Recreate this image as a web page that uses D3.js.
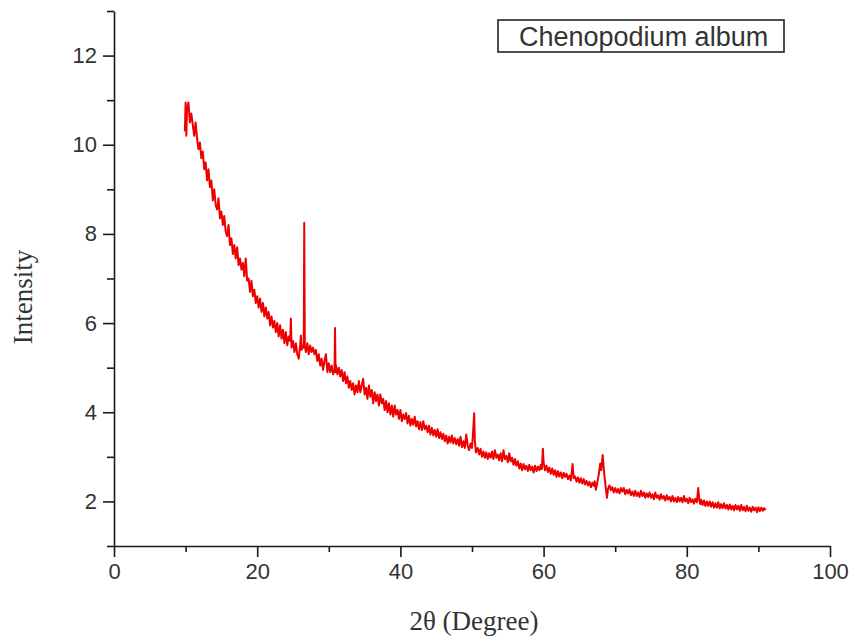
<!DOCTYPE html>
<html>
<head>
<meta charset="utf-8">
<script src="https://cdn.jsdelivr.net/npm/d3@7/dist/d3.min.js"></script>
<style>
  html, body { margin: 0; padding: 0; background: #fff; }
  svg { display: block; }
</style>
</head>
<body>
<svg id="chart" width="854" height="642"></svg>
<script>
// ---- data ----
const seriesName = "Chenopodium album";
const xLabel = "2θ (Degree)";
const yLabel = "Intensity";
const xDomain = [0, 100];
const yDomain = [1, 13];
const xMajorTicks = [0, 20, 40, 60, 80, 100];
const xMinorTicks = [10, 30, 50, 70, 90];
const yMajorTicks = [2, 4, 6, 8, 10, 12];
const yMinorTicks = [1, 3, 5, 7, 9, 11, 13];

// [2θ, intensity]
const xrdScan = [
[9.9,10.3],[10.0,10.95],[10.1,10.2],[10.2,10.8],[10.4,10.95],[10.6,10.5],[10.8,10.7],
[11.0,10.45],[11.2,10.2],[11.4,10.5],[11.6,10.15],[11.8,9.9],
[12.0,10.05],[12.2,9.7],[12.4,9.85],[12.6,9.45],[12.8,9.6],
[13.0,9.2],[13.2,9.45],[13.4,9.05],[13.6,9.2],[13.8,8.75],
[14.0,9.0],[14.2,8.65],[14.4,8.55],[14.6,8.8],[14.8,8.35],
[15.0,8.5],[15.2,8.2],[15.4,8.4],[15.6,8.05],[15.8,7.95],
[16.0,8.2],[16.2,7.75],[16.4,7.9],[16.6,7.55],[16.8,7.75],
[17.0,7.45],[17.2,7.7],[17.4,7.3],[17.6,7.45],[17.8,7.2],
[18.0,7.35],[18.2,7.05],[18.4,7.45],[18.6,6.95],[18.8,7.0],
[19.0,6.7],[19.2,6.95],[19.4,6.6],[19.6,6.75],[19.8,6.45],
[20.0,6.6],[20.2,6.35],[20.4,6.55],[20.6,6.25],[20.8,6.45],
[21.0,6.15],[21.2,6.35],[21.4,6.1],[21.6,6.25],[21.8,5.95],
[22.0,6.15],[22.2,5.9],[22.4,6.05],[22.6,5.8],[22.8,6.0],
[23.0,5.7],[23.2,5.95],[23.4,5.65],[23.6,5.85],[23.8,5.55],
[24.0,5.8],[24.2,5.5],[24.4,5.7],[24.6,5.6],[24.7,6.1],[24.8,5.45],
[25.0,5.6],[25.2,5.35],[25.4,5.55],[25.6,5.3],[25.8,5.2],
[26.0,5.5],[26.1,5.72],[26.2,5.4],[26.4,5.5],[26.5,5.45],[26.57,8.25],[26.65,5.5],[26.8,5.35],
[27.0,5.55],[27.2,5.3],[27.4,5.5],[27.6,5.35],[27.8,5.45],
[28.0,5.3],[28.2,5.4],[28.4,5.15],[28.6,5.3],[28.8,5.05],
[29.0,5.2],[29.2,4.95],[29.4,5.15],[29.6,5.3],[29.8,4.9],
[30.0,5.1],[30.2,4.9],[30.4,5.05],[30.6,4.85],[30.8,4.95],[30.87,5.89],[30.95,4.9],
[31.0,5.05],[31.2,4.85],[31.4,5.0],[31.6,4.8],[31.8,4.95],
[32.0,4.7],[32.2,4.9],[32.4,4.65],[32.6,4.8],[32.8,4.55],
[33.0,4.7],[33.2,4.5],[33.4,4.65],[33.6,4.4],[33.8,4.6],
[34.0,4.45],[34.2,4.7],[34.4,4.45],[34.6,4.6],[34.8,4.75],
[35.0,4.4],[35.2,4.55],[35.4,4.3],[35.6,4.6],[35.8,4.35],
[36.0,4.5],[36.2,4.2],[36.4,4.45],[36.6,4.25],[36.8,4.4],
[37.0,4.15],[37.2,4.4],[37.4,4.2],[37.6,4.3],[37.8,4.05],
[38.0,4.25],[38.2,4.0],[38.4,4.2],[38.6,3.95],[38.8,4.15],
[39.0,3.9],[39.2,4.15],[39.4,3.95],[39.6,4.05],[39.8,3.85],
[40.0,4.05],[40.2,3.8],[40.4,3.95],[40.6,3.85],[40.8,3.98],
[41.0,3.75],[41.2,3.92],[41.4,3.7],[41.6,3.85],[41.8,3.72],
[42.0,3.9],[42.2,3.68],[42.4,3.8],[42.6,3.62],[42.8,3.78],
[43.0,3.6],[43.2,3.8],[43.4,3.62],[43.6,3.7],[43.8,3.55],
[44.0,3.7],[44.2,3.5],[44.4,3.65],[44.6,3.48],[44.8,3.6],
[45.0,3.45],[45.2,3.62],[45.4,3.42],[45.6,3.55],[45.8,3.4],
[46.0,3.52],[46.2,3.35],[46.4,3.48],[46.6,3.3],[46.8,3.45],
[47.0,3.32],[47.2,3.48],[47.4,3.3],[47.6,3.42],[47.8,3.28],
[48.0,3.4],[48.2,3.25],[48.4,3.45],[48.6,3.22],[48.8,3.35],
[49.0,3.2],[49.2,3.5],[49.4,3.25],[49.6,3.15],[49.8,3.3],
[50.0,3.2],[50.15,3.55],[50.3,3.98],[50.4,3.35],[50.55,3.1],[50.8,3.2],
[51.0,3.05],[51.2,3.18],[51.4,3.0],[51.6,3.12],[51.8,2.98],
[52.0,3.1],[52.2,2.95],[52.4,3.08],[52.6,2.98],[52.8,3.12],
[53.0,2.95],[53.2,3.15],[53.4,2.98],[53.6,3.05],[53.8,2.92],
[54.0,3.08],[54.2,2.9],[54.4,3.15],[54.6,2.95],[54.8,3.02],
[55.0,2.88],[55.2,3.08],[55.4,2.9],[55.6,2.98],[55.8,2.82],
[56.0,2.95],[56.2,2.8],[56.4,2.9],[56.6,2.74],[56.8,2.85],
[57.0,2.7],[57.2,2.84],[57.4,2.72],[57.6,2.8],[57.8,2.68],
[58.0,2.82],[58.2,2.7],[58.4,2.78],[58.6,2.65],[58.8,2.8],
[59.0,2.68],[59.2,2.78],[59.4,2.7],[59.6,2.82],[59.75,2.72],[59.9,3.18],[60.0,2.88],
[60.2,2.7],[60.4,2.8],[60.6,2.66],[60.8,2.76],
[61.0,2.62],[61.2,2.74],[61.4,2.6],[61.6,2.7],[61.8,2.55],
[62.0,2.68],[62.2,2.56],[62.4,2.65],[62.6,2.52],[62.8,2.64],
[63.0,2.55],[63.2,2.62],[63.4,2.5],[63.6,2.58],[63.8,2.47],
[64.05,2.84],[64.2,2.52],[64.4,2.56],[64.6,2.44],[64.8,2.54],
[65.0,2.42],[65.2,2.52],[65.4,2.4],[65.6,2.5],[65.8,2.38],
[66.0,2.46],[66.2,2.36],[66.4,2.44],[66.6,2.32],[66.8,2.42],
[67.0,2.35],[67.15,2.45],[67.3,2.26],[67.5,2.42],[67.7,2.6],[67.9,2.85],[68.05,2.7],
[68.25,3.04],[68.45,2.65],[68.65,2.35],[68.85,2.08],
[69.0,2.28],[69.2,2.36],[69.4,2.25],[69.6,2.32],[69.8,2.2],
[70.0,2.3],[70.2,2.2],[70.4,2.28],[70.6,2.18],[70.8,2.3],
[71.0,2.22],[71.2,2.3],[71.4,2.16],[71.6,2.26],[71.8,2.18],
[72.0,2.27],[72.2,2.14],[72.4,2.22],[72.6,2.12],[72.8,2.24],
[73.0,2.12],[73.2,2.2],[73.4,2.1],[73.6,2.24],[73.8,2.12],
[74.0,2.2],[74.2,2.08],[74.4,2.18],[74.6,2.1],[74.8,2.2],
[75.0,2.08],[75.2,2.16],[75.4,2.05],[75.6,2.2],[75.8,2.08],
[76.0,2.14],[76.2,2.04],[76.4,2.16],[76.6,2.06],[76.8,2.12],
[77.0,2.02],[77.2,2.14],[77.4,2.04],[77.6,2.1],[77.8,2.0],
[78.0,2.12],[78.2,2.0],[78.4,2.08],[78.6,1.98],[78.8,2.1],
[79.0,2.0],[79.2,2.08],[79.4,1.98],[79.6,2.12],[79.8,2.0],
[80.0,2.06],[80.2,1.96],[80.4,2.08],[80.6,1.98],[80.8,2.05],
[81.0,1.95],[81.2,2.06],[81.4,1.98],[81.6,2.3],[81.75,2.02],[81.9,1.94],
[82.0,2.04],[82.2,1.92],[82.4,2.02],[82.6,1.9],[82.8,2.0],
[83.0,1.9],[83.2,2.0],[83.4,1.88],[83.6,1.98],[83.8,1.86],
[84.0,1.96],[84.2,1.86],[84.4,1.98],[84.6,1.84],[84.8,1.94],
[85.0,1.85],[85.2,1.96],[85.4,1.84],[85.6,1.92],[85.8,1.82],
[86.0,1.93],[86.2,1.82],[86.4,1.9],[86.6,1.8],[86.8,1.92],
[87.0,1.82],[87.2,1.9],[87.4,1.79],[87.6,1.92],[87.8,1.8],
[88.0,1.88],[88.2,1.78],[88.4,1.9],[88.6,1.79],[88.8,1.86],
[89.0,1.77],[89.2,1.88],[89.4,1.8],[89.6,1.86],[89.8,1.76],
[90.0,1.87],[90.2,1.78],[90.4,1.86],[90.6,1.79],[90.8,1.85],[91.0,1.8]
];

// ---- layout ----
const svg = d3.select("#chart");
const margin = { left: 114, right: 24, top: 11, bottom: 96 };
const W = 854, H = 642;
const x = d3.scaleLinear().domain(xDomain).range([margin.left, W - margin.right]);
const y = d3.scaleLinear().domain(yDomain).range([H - margin.bottom, margin.top]);

const axisColor = "#1a1a1a";
const tickFont = "'Liberation Sans', Arial, sans-serif";
const serifFont = "'Liberation Serif', 'Times New Roman', serif";

// data line
const line = d3.line().x(d => x(d[0])).y(d => y(d[1]));
svg.append("path")
  .datum(xrdScan)
  .attr("d", line)
  .attr("fill", "none")
  .attr("stroke", "#ee0000")
  .attr("stroke-width", 2)
  .attr("stroke-linejoin", "round");

// x axis
const xAxisG = svg.append("g").attr("transform", `translate(0,${y(yDomain[0])})`);
xAxisG.call(d3.axisBottom(x).tickValues(xMajorTicks).tickSize(11).tickPadding(6).tickSizeOuter(0));
const xMinorG = svg.append("g").attr("transform", `translate(0,${y(yDomain[0])})`);
xMinorG.call(d3.axisBottom(x).tickValues(xMinorTicks).tickSize(6).tickFormat("").tickSizeOuter(0));
xMinorG.select(".domain").remove();

// y axis
const yAxisG = svg.append("g").attr("transform", `translate(${x(xDomain[0])},0)`);
yAxisG.call(d3.axisLeft(y).tickValues(yMajorTicks).tickSize(11).tickPadding(6).tickSizeOuter(0));
const yMinorG = svg.append("g").attr("transform", `translate(${x(xDomain[0])},0)`);
yMinorG.call(d3.axisLeft(y).tickValues(yMinorTicks).tickSize(7).tickFormat("").tickSizeOuter(0));
yMinorG.select(".domain").remove();

svg.selectAll(".domain, .tick line")
  .attr("stroke", axisColor)
  .attr("stroke-width", 1.6);
svg.selectAll(".tick text")
  .attr("fill", "#333")
  .style("font-family", tickFont)
  .style("font-size", "22px");

// axis titles
svg.append("text")
  .attr("x", 474)
  .attr("y", 630)
  .attr("text-anchor", "middle")
  .style("font-family", serifFont)
  .style("font-size", "27px")
  .attr("fill", "#333")
  .text(xLabel);

svg.append("text")
  .attr("transform", `translate(32,${297}) rotate(-90)`)
  .attr("text-anchor", "middle")
  .style("font-family", serifFont)
  .style("font-size", "27px")
  .attr("fill", "#333")
  .text(yLabel);

// legend box
const lg = svg.append("g");
lg.append("rect")
  .attr("x", 498).attr("y", 20)
  .attr("width", 286).attr("height", 32)
  .attr("fill", "#fff")
  .attr("stroke", "#222")
  .attr("stroke-width", 1.6);
lg.append("text")
  .attr("x", 519).attr("y", 46)
  .style("font-family", tickFont)
  .style("font-size", "27px")
  .attr("fill", "#333")
  .text(seriesName);
</script>
</body>
</html>
